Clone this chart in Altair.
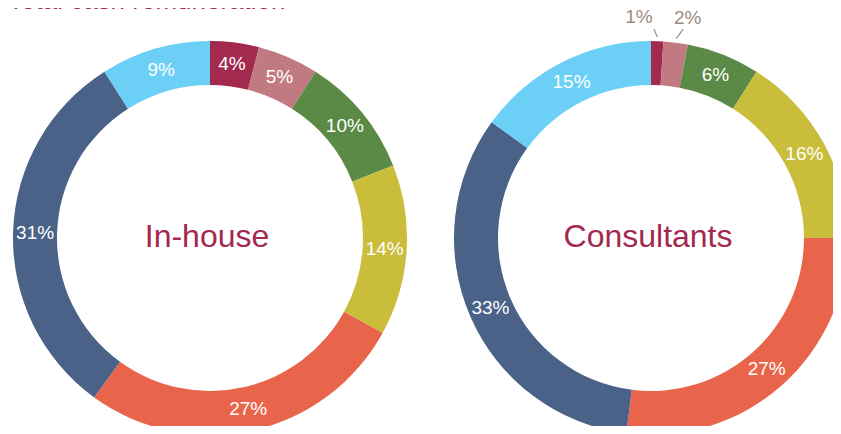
import altair as alt
import pandas as pd

# ---------------- data ----------------
title_text = "Total cash remuneration"
groups = ["In-house", "Consultants"]
segments = ["Segment 1", "Segment 2", "Segment 3", "Segment 4",
            "Segment 5", "Segment 6", "Segment 7"]
inhouse_pct = [4, 5, 10, 14, 27, 31, 9]
consultants_pct = [1, 2, 6, 16, 27, 33, 15]
colors = ["#a3294f", "#c27a82", "#5a8a45", "#cabd3c",
          "#e8654b", "#4a6287", "#6ccff6"]

rows = []
for g, vals in zip(groups, [inhouse_pct, consultants_pct]):
    for i, (s, v) in enumerate(zip(segments, vals)):
        rows.append({"group": g, "segment": s, "order": i,
                     "value": v, "label": f"{v}%"})
df = pd.DataFrame(rows)
title_df = pd.DataFrame({"t": [title_text]})
center_df = pd.DataFrame({"group": groups})

# ---------------- layout / style ----------------
FONT = "Liberation Sans, Arial, Helvetica, sans-serif"
CRIMSON = "#a3294f"
TAN = "#a08b80"
W, H = 825, 418
CX = {"In-house": 202, "Consultants": 643}
CY = 230
R_OUT, R_IN, R_LAB = 197, 153, 175
SMALL = 3  # slices below this get an outside label
# outside-label tweaks, keyed by slice order
SMALL_STYLE = {0: dict(lx2=-3.5, ly2=0, tdx=-19, tdy=0),
               1: dict(lx2=6, ly2=-1.5, tdx=9, tdy=-1)}

theta_scale = alt.Scale(domain=[0, 100])
color_scale = alt.Scale(domain=segments, range=colors)

layers = []

# title (sits partly above the visible page, as in the reference)
layers.append(
    alt.Chart(title_df).mark_text(
        align="left", baseline="alphabetic", fontSize=26, font=FONT,
        color=CRIMSON
    ).encode(text="t:N", x=alt.value(0), y=alt.value(1))
)

for g in groups:
    cx = CX[g]
    base = alt.Chart(df).transform_filter(alt.datum.group == g)

    arc = base.mark_arc(innerRadius=R_IN, outerRadius=R_OUT).encode(
        theta=alt.Theta("value:Q", stack=True, scale=theta_scale),
        order=alt.Order("order:Q", sort="ascending"),
        color=alt.Color("segment:N", scale=color_scale, legend=None),
        x=alt.value(cx), y=alt.value(CY),
    )
    layers.append(arc)

    mid = base.transform_window(
        cum="sum(value)", sort=[{"field": "order"}], frame=[None, 0]
    ).transform_calculate(
        mid="datum.cum - datum.value / 2",
        ang="(datum.cum - datum.value / 2) / 100 * 2 * PI",
    )

    inner = mid.transform_filter(alt.datum.value >= SMALL).mark_text(
        radius=R_LAB, fontSize=19, font=FONT, color="white",
        align="center", baseline="middle",
    ).encode(
        theta=alt.Theta("mid:Q", scale=theta_scale, stack=None),
        text="label:N",
        x=alt.value(cx), y=alt.value(CY),
    )
    layers.append(inner)

    # outside labels + leader lines for tiny slices
    small = mid.transform_filter(alt.datum.value < SMALL).transform_calculate(
        x1=f"{cx} + 201 * sin(datum.ang)",
        y1=f"{CY} - 201 * cos(datum.ang)",
        x2=f"{cx} + 209 * sin(datum.ang)",
        y2=f"{CY} - 209 * cos(datum.ang)",
        tx=f"{cx} + 221 * sin(datum.ang)",
        ty=f"{CY} - 221 * cos(datum.ang)",
    )
    for k, st in SMALL_STYLE.items():
        sk = small.transform_filter(alt.datum.order == k)
        layers.append(
            sk.mark_rule(color=TAN, strokeWidth=1.2,
                         x2Offset=st["lx2"], y2Offset=st["ly2"]).encode(
                x=alt.X("x1:Q", scale=None), y=alt.Y("y1:Q", scale=None),
                x2="x2:Q", y2="y2:Q",
            )
        )
        layers.append(
            sk.mark_text(fontSize=19, font=FONT, color=TAN, align="center",
                         baseline="middle", dx=st["tdx"], dy=st["tdy"]).encode(
                x=alt.X("tx:Q", scale=None), y=alt.Y("ty:Q", scale=None),
                text="label:N",
            )
        )

    # centre label
    layers.append(
        alt.Chart(center_df).transform_filter(alt.datum.group == g).mark_text(
            fontSize=32, font=FONT, color=CRIMSON, align="center",
            baseline="alphabetic", dx=-3,
        ).encode(text="group:N", x=alt.value(cx), y=alt.value(239))
    )

chart = alt.layer(*layers).properties(
    width=W, height=H, padding=0,
    autosize=alt.AutoSizeParams(type="none"),
).configure_view(stroke=None)

chart.save("out.html", embed_options={"renderer": "svg", "actions": False})
